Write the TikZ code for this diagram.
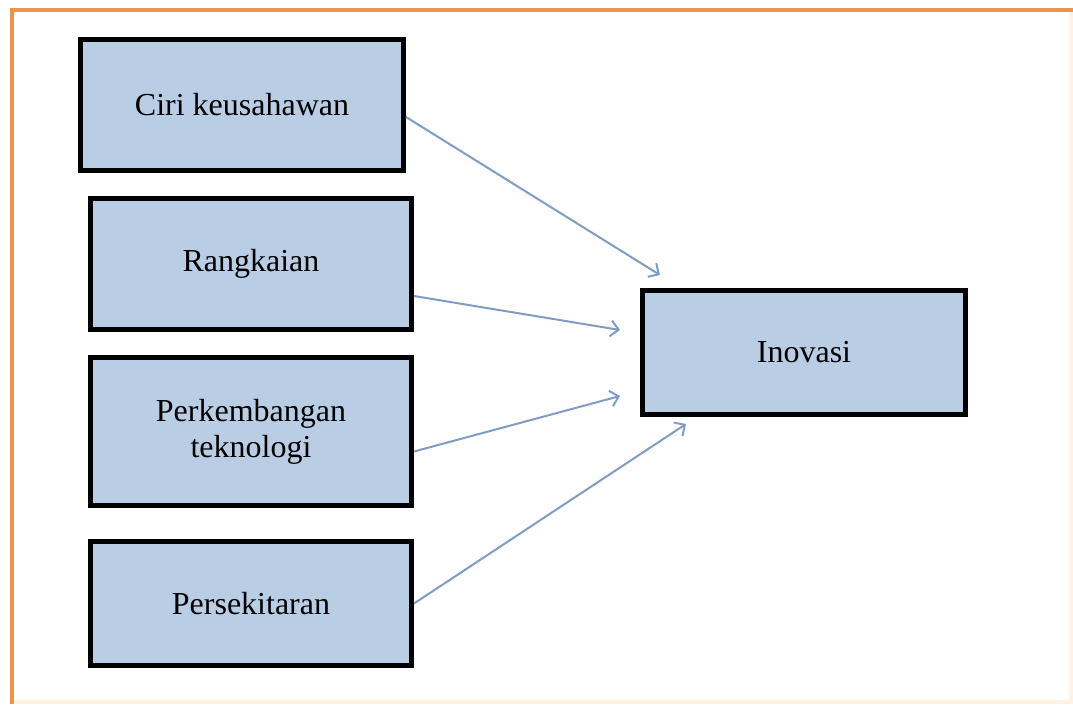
\documentclass[tikz,border=0pt]{standalone}
\usepackage{fontspec}
\setmainfont{Liberation Serif}
\usepackage{tikz}
\usetikzlibrary{arrows.meta,positioning}

\definecolor{boxfill}{RGB}{185,205,229}
\definecolor{arrowblue}{RGB}{128,156,198}
\definecolor{frameorange}{RGB}{236,148,78}
\definecolor{framefaint}{RGB}{253,242,228}

\begin{document}
\begin{tikzpicture}[x=1pt, y=-1pt,
        factor/.style={draw, line width=5pt, fill=boxfill, align=center,
            minimum width=321pt, inner sep=0pt,
            font=\fontsize{32}{36}\selectfont},
        link/.style={-{Straight Barb[length=8pt, width=16pt]}, line width=2pt, color=arrowblue}]
        \useasboundingbox (0,0) rectangle (1073,704);
        % frame
        \draw[framefaint, line width=4pt] (1071,10) -- (1071,702) -- (12,702);
        \draw[frameorange, line width=4pt] (1073,10) -- (12,10) -- (12,704);

        \node (ciri) [factor, minimum width=323pt, minimum height=131pt] at (242,105) {Ciri keusahawan};
        \node (rangkaian) [factor, minimum height=131pt] at (251,264) {Rangkaian};
        \node (teknologi) [factor, minimum height=148pt] at (251,431.5) {Perkembangan\\teknologi};
        \node (sekitar) [factor, minimum height=124pt] at (251,603.5) {Persekitaran};
        \node (inovasi) [factor, minimum width=323pt, minimum height=124pt] at (804,352.5) {Inovasi};

        \coordinate (c1) at (660,275);
        \coordinate (c2) at (620,330);
        \coordinate (c3) at (620,396);
        \coordinate (c4) at (686,424);

        \draw[link] ([yshift=-12pt]ciri.east) -- (c1);
        \draw[link] ([yshift=-32pt]rangkaian.east) -- (c2);
        \draw[link] ([yshift=-20pt]teknologi.east) -- (c3);
        \draw[link] (sekitar.east) -- (c4);
    \end{tikzpicture}
\end{document}
